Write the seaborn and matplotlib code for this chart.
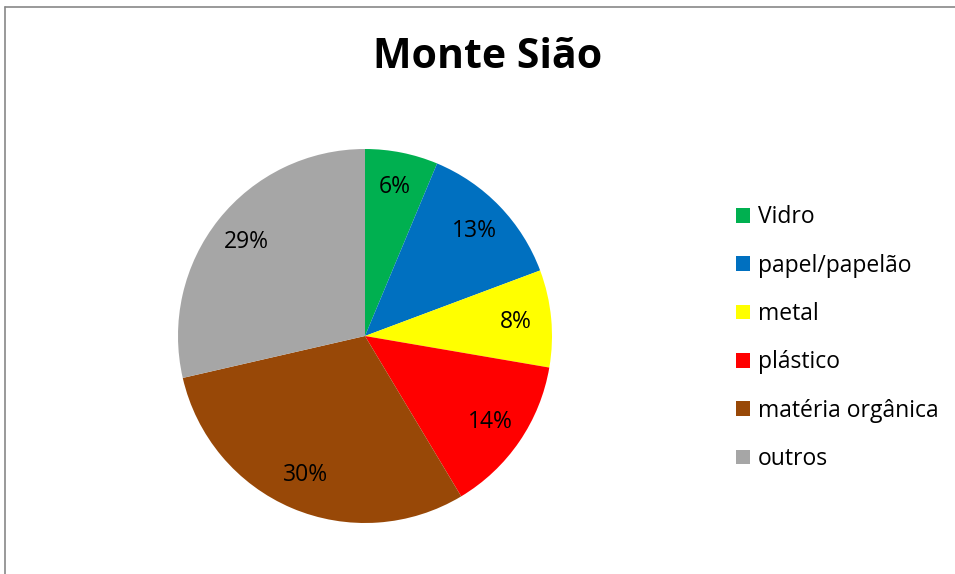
import matplotlib.pyplot as plt
import seaborn as sns
from matplotlib.lines import Line2D

categories = ['Vidro', 'papel/papelão', 'metal', 'plástico', 'matéria orgânica', 'outros']
# shares (labels show them rounded)
shares = [6.3, 13.0, 8.4, 13.7, 30.0, 28.6]
colors = ['#00B050', '#0070C0', '#FFFF00', '#FF0000', '#984807', '#A6A6A6']
title = 'Monte Sião'

sns.set_theme(style="white")
plt.rcParams['font.family'] = ['Open Sans', 'DejaVu Sans']
plt.rcParams['text.color'] = 'black'

fig = plt.figure(figsize=(9.55, 5.74), dpi=100)

# pie area: centre ~ (365, 336) px, radius ~187 px
ax = fig.add_axes([178 / 955, 51 / 574, 374 / 955, 374 / 574])
wedges, texts, autotexts = ax.pie(
    shares, colors=colors, startangle=90, counterclock=False,
    autopct='%1.0f%%', pctdistance=0.81,
    wedgeprops=dict(linewidth=0),
    textprops=dict(fontsize=16.5, color='black'))
ax.set_xlim(-1, 1)
ax.set_ylim(-1, 1)
ax.axis('off')

fig.text(488 / 955, 1 - 58 / 574, title, ha='center', va='center',
         fontsize=29.5, fontweight='bold', color='black')

fig.legend(wedges, categories, loc='upper left',
           bbox_to_anchor=(725 / 955, 1 - 194 / 574),
           frameon=False, fontsize=16.5, handlelength=0.6, handleheight=0.6,
           handletextpad=0.35, labelspacing=1.06, borderpad=0,
           labelcolor='black')

# chart border (top and left edges visible)
fig.add_artist(Line2D([5 / 955, 1], [1 - 7 / 574, 1 - 7 / 574],
                      transform=fig.transFigure, color='#888888', lw=1.2))
fig.add_artist(Line2D([5 / 955, 5 / 955], [0, 1 - 7 / 574],
                      transform=fig.transFigure, color='#888888', lw=1.2))

fig.savefig('out.png', dpi=100)
